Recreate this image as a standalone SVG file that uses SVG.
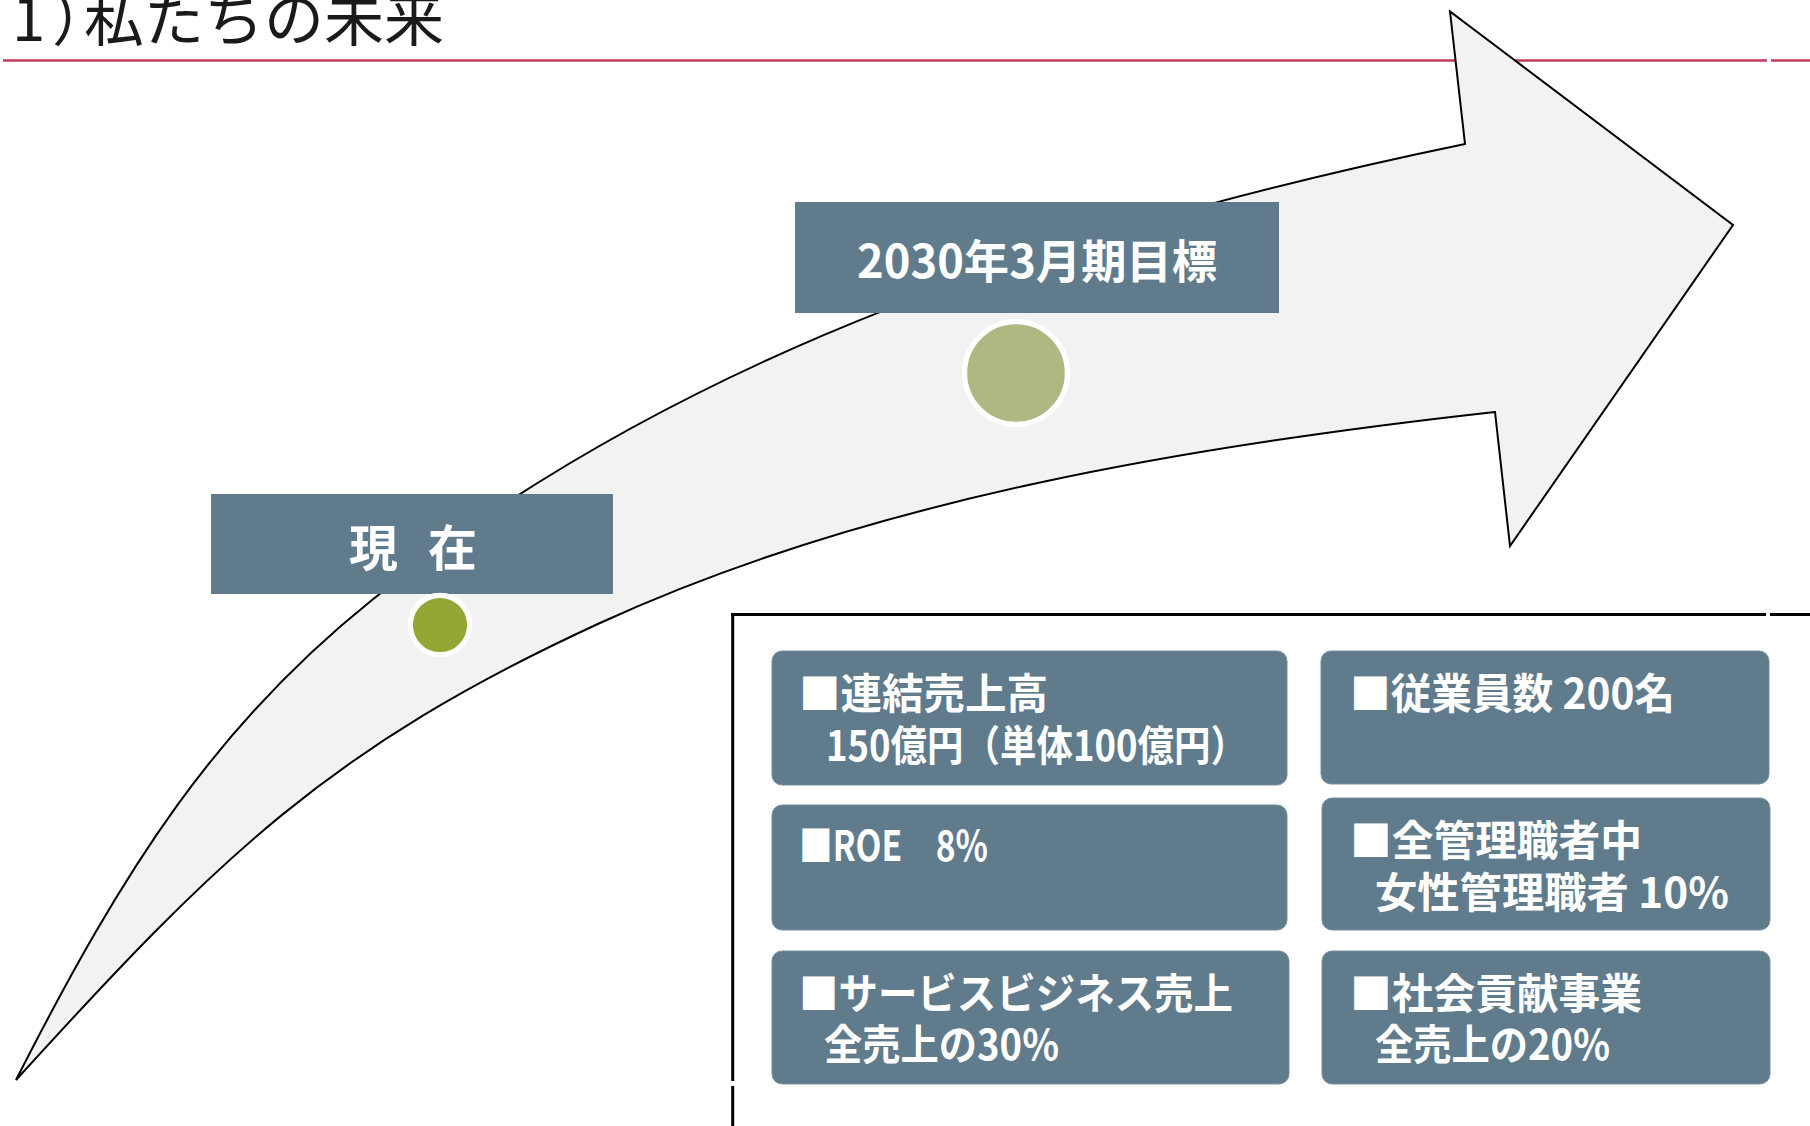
<svg xmlns="http://www.w3.org/2000/svg" width="1810" height="1126" viewBox="0 0 1810 1126">
<style>
.jp{font-family:"Noto Sans CJK JP","Noto Sans CJK SC",sans-serif}
.lbl{fill:#ffffff;font-weight:700}
.tag{fill:#5f7b8c}
.card{fill:#5f7b8c;stroke:#7890a0;stroke-width:1}
.ct{fill:#ffffff;font-weight:700;font-size:42px}
.pl{stroke:#000000;stroke-width:3;fill:none}
</style>
<rect x="0" y="0" width="1810" height="1126" fill="#ffffff"/>
<g id="title">
<text class="jp" x="12 52 84" y="41" font-size="60" fill="#1a1a1a">1）私たちの未来</text>
<line x1="3" y1="60.5" x2="1767" y2="60.5" stroke="#c43a5c" stroke-width="2.5"/>
<line x1="1771" y1="60.5" x2="1810" y2="60.5" stroke="#c43a5c" stroke-width="2.5"/>
</g>
<g id="connectors">
<path id="growth-arrow" d="M16,1080 C124.7,866 216,725 372,600 C684,350 1073,225 1465,144 L1450,11.5 L1733,225 L1510,546 L1495,412 C1197,445 872,498 600,623 C328,748 218,858 16,1080 Z" fill="#f2f2f2" stroke="#000000" stroke-width="2" stroke-linejoin="miter"/>
</g>
<g id="node-now">
<rect class="tag" x="211" y="494" width="402" height="100"/>
<text class="jp lbl" x="349 397 428" y="566" font-size="49">現　在</text>
</g>
<g id="node-target">
<rect class="tag" x="795" y="202" width="484" height="111"/>
<text class="jp lbl" x="857" y="278" font-size="46" textLength="360" lengthAdjust="spacingAndGlyphs">2030年3月期目標</text>
</g>
<g id="dot-now">
<circle cx="440" cy="625" r="29.7" fill="#95a634" stroke="#ffffff" stroke-width="5.3"/>
</g>
<g id="dot-target">
<circle cx="1016" cy="373" r="51.4" fill="#aeb882" stroke="#ffffff" stroke-width="5.2"/>
</g>
<g id="panel">
<line class="pl" x1="731" y1="614.5" x2="1766" y2="614.5"/>
<line class="pl" x1="1770" y1="614.5" x2="1810" y2="614.5"/>
<line class="pl" x1="732.7" y1="613" x2="732.7" y2="1081"/>
<line class="pl" x1="732.7" y1="1086" x2="732.7" y2="1126"/>
</g>
<g id="card-sales">
<rect class="card" x="772" y="651" width="515" height="134" rx="10"/>
<text class="jp ct" x="799" y="709" textLength="249" lengthAdjust="spacingAndGlyphs">■連結売上高</text>
<text class="jp ct" x="826" y="761" textLength="421" lengthAdjust="spacingAndGlyphs">150億円（単体100億円）</text>
</g>
<g id="card-employees">
<rect class="card" x="1321" y="651" width="448" height="133" rx="10"/>
<text class="jp ct" x="1350" y="709" textLength="325" lengthAdjust="spacingAndGlyphs">■従業員数 200名</text>
</g>
<g id="card-roe">
<rect class="card" x="772" y="805" width="515" height="125" rx="10"/>
<text class="jp ct" x="799" y="861" textLength="189" lengthAdjust="spacingAndGlyphs">■ROE　8%</text>
</g>
<g id="card-women">
<rect class="card" x="1322" y="798" width="448" height="132" rx="10"/>
<text class="jp ct" x="1350" y="856" textLength="292" lengthAdjust="spacingAndGlyphs">■全管理職者中</text>
<text class="jp ct" x="1375" y="908" textLength="354" lengthAdjust="spacingAndGlyphs">女性管理職者 10%</text>
</g>
<g id="card-service">
<rect class="card" x="772" y="951" width="517" height="133" rx="10"/>
<text class="jp ct" x="799" y="1009" textLength="434" lengthAdjust="spacingAndGlyphs">■サービスビジネス売上</text>
<text class="jp ct" x="824" y="1060" textLength="235" lengthAdjust="spacingAndGlyphs">全売上の30%</text>
</g>
<g id="card-social">
<rect class="card" x="1322" y="951" width="448" height="133" rx="10"/>
<text class="jp ct" x="1350" y="1009" textLength="292" lengthAdjust="spacingAndGlyphs">■社会貢献事業</text>
<text class="jp ct" x="1375" y="1060" textLength="235" lengthAdjust="spacingAndGlyphs">全売上の20%</text>
</g>
</svg>
